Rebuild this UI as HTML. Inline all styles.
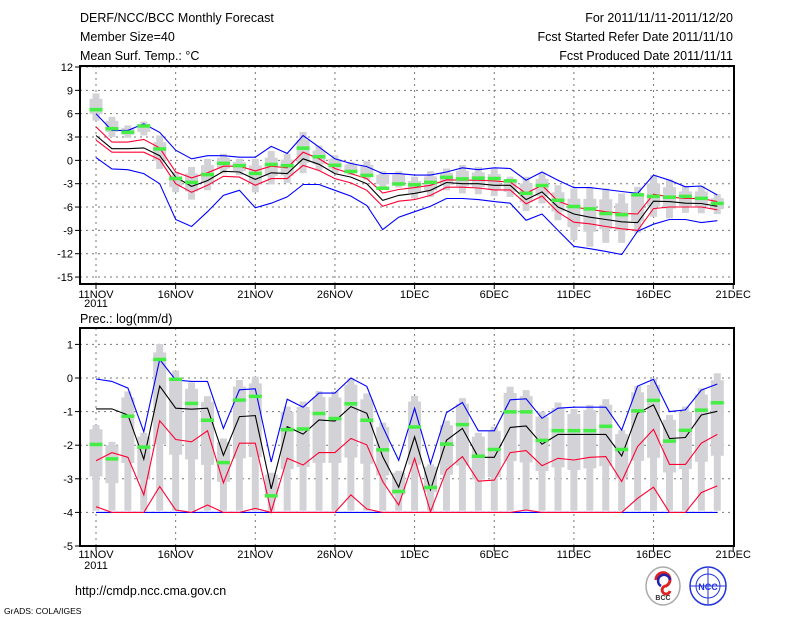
<!DOCTYPE html>
<html><head><meta charset="utf-8">
<style>
html,body{margin:0;padding:0;background:#fff;}
svg{display:block;font-family:"Liberation Sans","DejaVu Sans",sans-serif;}
</style></head>
<body>
<svg id="chart" width="800" height="618" viewBox="0 0 800 618" xmlns="http://www.w3.org/2000/svg">
  <rect width="800" height="618" fill="#fff"/>
  <g font-size="12.5" fill="#000">
    <text x="80" y="22">DERF/NCC/BCC Monthly Forecast</text>
    <text x="80" y="41">Member Size=40</text>
    <text x="80" y="60">Mean Surf. Temp.: °C</text>
  </g>
  <g font-size="12.5" fill="#000" text-anchor="end">
    <text x="733" y="22">For 2011/11/11-2011/12/20</text>
    <text x="733" y="41">Fcst Started Refer Date 2011/11/10</text>
    <text x="733" y="60">Fcst Produced Date 2011/11/11</text>
  </g>
  <text x="80" y="323" font-size="12.5">Prec.: log(mm/d)</text>
  <g id="top"></g>
  <g id="bot"></g>
  <text x="75" y="595" font-size="12.5">http://cmdp.ncc.cma.gov.cn</text>
  <text x="4" y="614" font-size="8.5">GrADS: COLA/IGES</text>
  <g>
    <ellipse cx="663" cy="586" rx="17" ry="19" fill="#fff" stroke="#aaa" stroke-width="1.5"/>
    <path d="M656 580 a7 7 0 1 1 10 6 a4 4 0 1 0 4 5" fill="none" stroke="#d22" stroke-width="3"/>
    <path d="M670 580 a6 6 0 1 0 -9 6" fill="none" stroke="#22a" stroke-width="2.5"/>
    <text x="663" y="600" font-size="7" text-anchor="middle" font-weight="bold" fill="#333">BCC</text>
  </g>
  <g>
    <ellipse cx="708" cy="586" rx="18" ry="19" fill="#fff" stroke="#23d" stroke-width="1.5"/>
    <ellipse cx="708" cy="586" rx="12" ry="12" fill="none" stroke="#23d" stroke-width="1"/>
    <line x1="690" y1="586" x2="726" y2="586" stroke="#23d"/>
    <line x1="708" y1="568" x2="708" y2="604" stroke="#23d"/>
    <text x="708" y="590" font-size="9" text-anchor="middle" font-weight="bold" fill="#23d">NCC</text>
  </g>
</svg>
<script>
// ---------- Temperature panel data (days 0..39 from 11NOV) ----------
var tBlueHi = [6.0,3.85,3.85,4.7,3.6,1.3,0.2,0.6,0.6,0.4,0.4,1.8,0.9,3.2,1.7,0.2,-0.4,-0.8,-1.7,-1.7,-1.9,-1.9,-1.5,-0.95,-1.2,-0.95,-1.05,-2.55,-1.5,-2.55,-3.5,-3.5,-3.75,-4.0,-4.25,-1.9,-2.55,-3.4,-3.3,-4.45];
var tBlueLo = [0.35,-1.1,-1.2,-1.7,-3.0,-7.6,-8.5,-6.6,-4.5,-3.85,-6.1,-5.5,-4.7,-3.1,-3.1,-3.85,-4.6,-5.8,-8.9,-7.3,-6.6,-5.9,-4.9,-4.9,-5.05,-5.3,-5.5,-7.7,-6.9,-9.0,-11.05,-11.35,-11.7,-12.1,-9.1,-8.2,-7.6,-7.6,-8.0,-7.75];
var tMean = [3.2,1.5,1.5,1.6,0.6,-2.15,-3.35,-2.6,-1.4,-1.5,-2.45,-1.6,-1.7,0.2,-0.5,-1.7,-2.15,-3.0,-5.15,-4.5,-4.25,-3.85,-2.85,-3.0,-3.0,-3.2,-3.2,-5.05,-4.05,-6.0,-6.9,-7.3,-7.6,-7.9,-8.0,-5.25,-5.3,-5.5,-5.55,-5.9];
var tRedHi = [4.3,2.35,2.35,2.7,1.6,-1.5,-2.25,-1.6,-0.75,-0.75,-1.35,-0.75,-0.95,1.05,0.2,-1.05,-1.7,-2.35,-4.2,-3.75,-3.5,-3.2,-2.5,-2.55,-2.55,-2.65,-2.8,-4.25,-3.2,-5.25,-6.0,-6.3,-6.6,-6.8,-6.9,-4.35,-4.7,-4.9,-4.9,-5.3];
var tRedLo = [2.6,1.05,1.05,1.05,0.1,-3.0,-4.1,-3.2,-2.05,-2.15,-3.2,-2.35,-2.35,-0.65,-1.3,-2.35,-2.9,-3.85,-5.9,-5.25,-5.05,-4.5,-3.45,-3.45,-3.55,-3.8,-3.8,-5.6,-4.6,-6.65,-7.95,-8.15,-8.5,-8.8,-9.0,-6.2,-6.0,-6.0,-6.0,-6.35];
var tGreen = [6.55,4.1,3.65,4.45,1.5,-2.3,-2.8,-1.8,-0.35,-0.65,-1.65,-0.5,-0.65,1.6,0.5,-0.6,-1.4,-1.9,-3.55,-3.0,-3.1,-2.8,-2.15,-2.35,-2.25,-2.3,-2.6,-4.2,-3.2,-5.1,-5.9,-6.2,-6.8,-6.95,-4.4,-4.6,-4.7,-4.6,-4.85,-5.5];
var tBarHi = [8.6,5.6,4.5,5.0,3.2,-1.5,-0.85,0.2,0.85,0.2,0.2,1.2,0.85,3.65,1.9,0.65,-0.2,-0.1,-1.4,-1.4,-2.1,-1.4,-1.05,-0.6,-0.85,-1.05,-2.1,-2.1,-1.6,-3.2,-3.6,-3.4,-3.6,-4.25,-3.4,-1.9,-2.45,-3.3,-3.3,-4.35];
var tBarLo = [5.1,3.0,2.9,3.2,-1.1,-4.1,-5.05,-3.85,-1.7,-1.9,-4.1,-3.1,-2.9,-1.65,-1.3,-1.65,-1.9,-2.5,-3.65,-3.5,-4.9,-4.7,-3.85,-4.25,-4.35,-4.6,-4.7,-6.5,-5.55,-7.7,-10.25,-11.1,-10.6,-10.6,-9.3,-7.25,-7.45,-6.75,-6.8,-6.9];
var tTicks = [12,9,6,3,0,-3,-6,-9,-12,-15];

// ---------- Precipitation panel data ----------
var pBlueHi = [-0.03,-0.1,-0.3,-1.6,0.55,-0.06,-0.1,-0.1,-1.5,-0.35,-0.32,-2.5,-0.63,-0.87,-0.45,-0.45,0.0,-0.25,-1.45,-2.45,-0.9,-2.55,-1.03,-0.73,-1.57,-1.57,-0.65,-0.62,-1.2,-0.9,-0.87,-0.87,-0.87,-1.55,-0.24,-0.04,-1.0,-0.95,-0.36,-0.18];
var pBlueLo = [-4,-4,-4,-4,-4,-4,-4,-4,-4,-4,-4,-4,-4,-4,-4,-4,-4,-4,-4,-4,-4,-4,-4,-4,-4,-4,-4,-4,-4,-4,-4,-4,-4,-4,-4,-4,-4,-4,-4,-4];
var pMean = [-0.92,-0.92,-1.1,-2.42,-0.24,-0.9,-0.93,-0.9,-2.3,-1.15,-1.12,-3.3,-1.45,-1.67,-1.25,-1.28,-0.85,-1.05,-2.34,-3.25,-1.75,-3.33,-1.85,-1.5,-2.36,-2.36,-1.47,-1.43,-1.97,-1.68,-1.68,-1.68,-1.68,-2.32,-1.05,-0.8,-1.8,-1.77,-1.1,-0.99];
var pRedHi = [-2.46,-2.22,-2.36,-3.48,-1.27,-1.83,-1.9,-1.57,-3.12,-1.94,-1.94,-3.98,-2.39,-2.59,-2.22,-2.22,-1.8,-1.99,-3.08,-3.78,-2.39,-3.98,-2.74,-2.34,-3.07,-3.04,-2.22,-2.16,-2.61,-2.39,-2.44,-2.36,-2.34,-3.08,-2.04,-1.53,-2.57,-2.57,-1.94,-1.68];
var pRedLo = [-3.83,-4,-4,-4,-3.23,-3.93,-4,-3.78,-4,-4,-3.88,-4,-4,-4,-4,-4,-3.48,-3.9,-4,-4,-4,-4,-4,-4,-4,-4,-4,-3.93,-4,-4,-4,-4,-4,-4,-3.58,-3.25,-4,-4,-3.41,-3.21];
var pGreen = [-1.97,-2.4,-1.13,-2.05,0.56,-0.03,-0.75,-1.25,-2.51,-0.65,-0.54,-3.5,-1.53,-1.51,-1.05,-1.2,-0.76,-1.25,-2.13,-3.37,-1.45,-3.25,-1.96,-1.38,-2.32,-2.12,-1.0,-1.0,-1.85,-1.56,-1.56,-1.56,-1.43,-2.12,-0.97,-0.66,-1.87,-1.55,-0.95,-0.73];
var pBarHi = [-1.4,-1.9,-0.4,-1.63,1.01,0.22,-0.13,-0.54,-1.8,-0.06,0.04,-2.82,-0.85,-0.7,-0.39,-0.4,0.0,-0.46,-1.33,-2.76,-0.53,-2.57,-1.27,-0.6,-1.63,-1.45,-0.26,-0.36,-1.0,-0.73,-0.92,-0.8,-0.63,-1.55,-0.24,-0.01,-1.1,-0.85,-0.31,0.14];
var pBarLo = [-3.95,-3.95,-3.95,-3.95,-3.95,-3.95,-3.95,-3.95,-3.95,-3.95,-3.95,-3.95,-3.95,-3.95,-3.95,-3.95,-3.95,-3.95,-3.95,-3.95,-3.95,-3.95,-3.95,-3.95,-3.95,-3.95,-3.95,-3.95,-3.95,-3.95,-3.95,-3.95,-3.95,-3.95,-3.95,-3.95,-3.95,-3.95,-3.95,-3.95];
var pTicks = [1,0,-1,-2,-3,-4,-5];

var dateLabels = ["11NOV","16NOV","21NOV","26NOV","1DEC","6DEC","11DEC","16DEC","21DEC"];
var dateTickDays = [0,5,10,15,20,25,30,35,40];

var NS = "http://www.w3.org/2000/svg";
function X(d){ return 96 + 15.93*d; }
function mk(parent, tag, attrs){
  var e = document.createElementNS(NS, tag);
  for (var k in attrs) e.setAttribute(k, attrs[k]);
  parent.appendChild(e); return e;
}

function panel(g, Y, ticks, frameTop, frameBot, bars, barsLo, green, lines, labelY, yearY, innerFrac) {
  // grid
  ticks.forEach(function(t){
    var l = mk(g,'line',{x1:80,x2:734,y1:Y(t),y2:Y(t),stroke:'#777','stroke-width':1,'stroke-dasharray':'2,4'});
    
    
    var tk = mk(g,'line',{x1:75,x2:80,y1:Y(t),y2:Y(t),stroke:'#000'});
    
    
    var tx = mk(g,'text',{x:73,y:Y(t)+4,'font-size':11,'text-anchor':'end'});
    tx.textContent = t;
    
    
  });
  dateTickDays.forEach(function(d,i){
    if (d < 40) {
      var l = mk(g,'line',{x1:X(d),x2:X(d),y1:frameTop,y2:frameBot,stroke:'#777','stroke-dasharray':'2,4'});
      
      
    }
    var tk = mk(g,'line',{x1:X(d),x2:X(d),y1:frameBot,y2:frameBot+5,stroke:'#000'});
    
    
    var tx = mk(g,'text',{x:X(d),y:labelY,'font-size':11,'text-anchor':'middle'});
    tx.textContent = dateLabels[i];
    
    
  });
  var yr = mk(g,'text',{x:X(0),y:yearY,'font-size':11,'text-anchor':'middle'});
  yr.textContent = '2011';
  
  
  // bars
  for (var d=0; d<bars.length; d++){
    var hi = Y(bars[d]), lo = Y(barsLo[d]);
    var b = mk(g,'rect',{x:X(d)-3.5,y:hi,width:7,height:lo-hi,fill:'#d3d3d7'});
    
    
    var r = lo-hi, bt = hi + r*innerFrac[0], bb = hi + r*innerFrac[1];
    var bx = mk(g,'rect',{x:X(d)-6.5,y:bt,width:13,height:bb-bt,fill:'#d3d3d7'});
    
    
  }
  // lines
  lines.forEach(function(L){
    var pts = L.data.map(function(v,d){ return X(d).toFixed(1)+','+Y(v).toFixed(1); }).join(' ');
    var p = mk(g,'polyline',{points:pts,fill:'none',stroke:L.color,'stroke-width':1.1});
    
    
  });
  // green marks
  for (var d=0; d<green.length; d++){
    var m = mk(g,'rect',{x:X(d)-6.5,y:Y(green[d])-1.5,width:13,height:3.5,fill:'#44ee44'});
    
    
  }
  var f = mk(g,'rect',{x:80,y:frameTop,width:654,height:frameBot-frameTop,fill:'none',stroke:'#000','stroke-width':2});
  
  
}

function YT(v){ return 67 + (12 - v)*7.78; }
function YP(v){ return 378 - v*33.6; }

panel(document.getElementById('top'), YT, tTicks, 66, 284, tBarHi, tBarLo, tGreen, [
  {data:tBlueHi,color:'#0000ff',name:'temp-max-line'},
  {data:tBlueLo,color:'#0000ff',name:'temp-min-line'},
  {data:tRedHi,color:'#ff0033',name:'temp-upper-line'},
  {data:tRedLo,color:'#ff0033',name:'temp-lower-line'},
  {data:tMean,color:'#000000',name:'temp-mean-line'}
], 298, 307, [0.2,0.75]);

panel(document.getElementById('bot'), YP, pTicks, 328, 546, pBarHi, pBarLo, pGreen, [
  {data:pBlueLo,color:'#0000ff',name:'prec-min-line'},
  {data:pRedLo,color:'#ff0033',name:'prec-lower-line'},
  {data:pRedHi,color:'#ff0033',name:'prec-upper-line'},
  {data:pBlueHi,color:'#0000ff',name:'prec-max-line'},
  {data:pMean,color:'#000000',name:'prec-mean-line'}
], 558, 569, [0.05,0.6]);
</script>
</body></html>
